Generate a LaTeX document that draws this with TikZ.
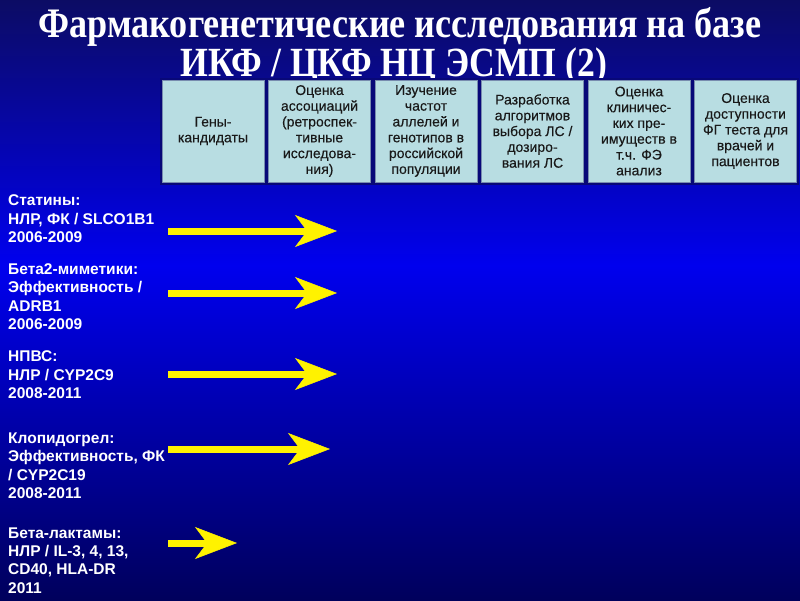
\documentclass[tikz,border=0pt]{standalone}
\usepackage{fontspec}
\setmainfont{Liberation Sans}
\newfontfamily\titlefont[FakeStretch=0.86]{Liberation Serif}
\newfontfamily\boxfont[FakeBold=0.3]{Liberation Sans}
\usetikzlibrary{arrows.meta}

\definecolor{fonverh}{RGB}{12,12,100}   % фон сверху
\definecolor{fonsered}{RGB}{0,0,238}    % фон посередине
\definecolor{fonniz}{RGB}{0,0,92}       % фон снизу
\definecolor{yacheika}{RGB}{184,221,226}
\definecolor{ramka}{RGB}{8,8,120}
\definecolor{kromka}{RGB}{120,140,175}

\begin{document}
\begin{tikzpicture}[
    x=1pt, y=-1pt, % 1pt = 1px, ось y вниз, как на слайде
    phase/.style={fill=yacheika, draw=kromka, line width=0.8pt,
        preaction={draw=ramka, line width=5pt},
        minimum width=102pt, minimum height=102pt, inner sep=0pt,
        align=center, text=black!90, font=\boxfont\fontsize{14}{15.8}\selectfont},
    drug/.style={anchor=base west, align=left, inner sep=0pt, text=white,
        font=\fontsize{15.5}{18.3}\selectfont\bfseries},
    strelka/.style={yellow, line width=7pt,
        -{Stealth[length=42pt, width=32pt, inset=12pt, line width=0.5pt]}}
]
    % фон слайда
    \useasboundingbox (0,0) rectangle (800,600);
    \shade[top color=fonverh, bottom color=fonsered] (0,0) rectangle (800,265);
    \shade[top color=fonsered, bottom color=fonniz] (0,265) rectangle (800,600);

    % заголовок
    \node[font=\titlefont\bfseries\fontsize{42}{44}\selectfont, text=white, anchor=base] (zag1) at (400,37) {Фармакогенетические исследования на базе};
    \node[font=\titlefont\bfseries\fontsize{41.5}{44}\selectfont, text=white, anchor=base] (zag2) at (394,76) {ИКФ / ЦКФ НЦ ЭСМП (2)};

    % 1. этапы исследования (верхний ряд)
    \foreach \i/\txt in {1/{Гены-\\кандидаты},
                         2/{Оценка\\ассоциаций\\(ретроспек-\\тивные\\исследова-\\ния)},
                         3/{Изучение\\частот\\аллелей и\\генотипов в\\российской\\популяции},
                         4/{Разработка\\алгоритмов\\выбора ЛС /\\дозиро-\\вания ЛС},
                         5/{Оценка\\клиничес-\\ких пре-\\имуществ в\\т.ч. ФЭ\\анализ},
                         6/{Оценка\\доступности\\ФГ теста для\\врачей и\\пациентов}} {
        \node[phase] (faza\i) at ({213+106.5*(\i-1)}, 131) {\txt};
    }

    % 2. группы препаратов (слева), y = базовая линия последней строки
    \foreach \i/\y/\txt in {1/242.5/{Статины:\\НЛР, ФК / SLCO1B1\\2006-2009},
                            2/329.5/{Бета2-миметики:\\Эффективность /\\ADRB1\\2006-2009},
                            3/398.5/{НПВС:\\НЛР / CYP2C9\\2008-2011},
                            4/498.5/{Клопидогрел:\\Эффективность, ФК\\/ CYP2C19\\2008-2011},
                            5/593/{Бета-лактамы:\\НЛР / IL-3, 4, 13,\\CD40, HLA-DR\\2011}} {
        \node[drug] (preparat\i) at (8,\y) {\txt};
    }

    % 3. стрелки: докуда дошли исследования
    \foreach \i/\y/\kon in {1/231/337, 2/293/337, 3/374/337, 4/449/330, 5/543/237} {
        \coordinate (nach\i) at (168,\y);
        \coordinate (kon\i) at (\kon,\y);
        \draw[strelka] (nach\i) -- (kon\i);
    }
\end{tikzpicture}
\end{document}
